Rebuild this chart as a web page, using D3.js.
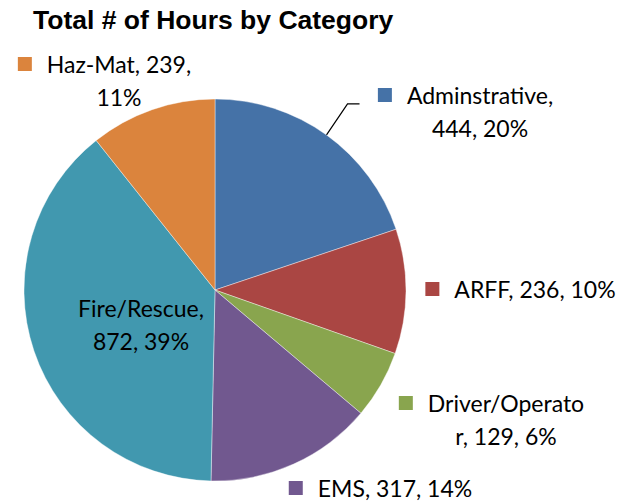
<!DOCTYPE html>
<html>
<head>
<meta charset="utf-8">
<script src="https://cdn.jsdelivr.net/npm/d3@7"></script>
<style>
  body { margin: 0; background: #fff; }
  svg { display: block; }
</style>
</head>
<body>
<div id="chart"></div>
<script>
// data
let categories = ["Adminstrative", "ARFF", "Driver/Operator", "EMS", "Fire/Rescue", "Haz-Mat"]
let hours = [444, 236, 129, 317, 872, 239]
let percentLabels = ["20%", "10%", "6%", "14%", "39%", "11%"]
let colors = ["#4572A7", "#AA4643", "#89A54E", "#71588F", "#4198AF", "#DB843D"]

// label text, split in lines the way the chart wraps them
let labelLines = [
    ["Adminstrative,", "444, 20%"],
    ["ARFF, 236, 10%"],
    ["Driver/Operato", "r, 129, 6%"],
    ["EMS, 317, 14%"],
    ["Fire/Rescue,", "872, 39%"],
    ["Haz-Mat, 239,", "11%"]
]

var width = 634
var height = 504
var cx = 215, cy = 290, radius = 191

// where each label block sits, relative to the pie centre (centre x of the text, first baseline)
var labelPos = [
    { dx: 265, dy: -186, key: true },
    { dx: 320, dy: 8, key: true },
    { dx: 291, dy: 122, key: true },
    { dx: 180, dy: 207, key: true },
    { dx: -74, dy: 27, key: false },
    { dx: -96, dy: -217, key: true }
]

var svg = d3.select("#chart").append("svg")
    .attr("width", width)
    .attr("height", height)

svg.append("text")
    .attr("x", 33)
    .attr("y", 29)
    .style("font-family", "'Liberation Sans', Arial, sans-serif")
    .style("font-weight", "bold")
    .style("font-size", "26.5px")
    .attr("fill", "#000")
    .text("Total # of Hours by Category")

var pie = d3.pie().sort(null).value(function (d) { return d })
var arcs = pie(hours)

var arc = d3.arc().innerRadius(0).outerRadius(radius)
var edgeArc = d3.arc().innerRadius(radius).outerRadius(radius)

var g = svg.append("g")
    .attr("transform", "translate(" + cx + "," + cy + ")")

g.selectAll("path.slice")
    .data(arcs)
    .enter().append("path")
    .attr("class", "slice")
    .attr("d", arc)
    .attr("fill", function (d, i) { return colors[i] })
    .attr("stroke", "#ffffff")
    .attr("stroke-width", 0.8)
    .attr("stroke-opacity", 0.5)

// leader line for the first label
var edge = edgeArc.centroid(arcs[0])
g.append("polyline")
    .attr("points", [edge, [edge[0] + 21, edge[1] - 31], [edge[0] + 33, edge[1] - 31]].map(function (p) { return p.join(",") }).join(" "))
    .attr("fill", "none")
    .attr("stroke", "#000")
    .attr("stroke-width", 1.2)

var lineHeight = 33
var labels = g.selectAll("g.label")
    .data(labelLines)
    .enter().append("g")
    .attr("class", "label")

labels.each(function (lines, i) {
    var lg = d3.select(this)
    var p = labelPos[i]
    var texts = lg.selectAll("text")
        .data(lines)
        .enter().append("text")
        .attr("x", p.dx)
        .attr("y", function (d, j) { return p.dy + j * lineHeight })
        .attr("text-anchor", "middle")
        .style("font-family", "Lato, 'Open Sans', sans-serif")
        .style("font-size", "23px")
        .attr("fill", "#000")
        .text(function (d) { return d })
    if (p.key) {
        var w = texts.node().getComputedTextLength()
        lg.append("rect")
            .attr("x", p.dx - w / 2 - 29)
            .attr("y", p.dy - 16)
            .attr("width", 14)
            .attr("height", 14)
            .attr("fill", colors[i])
    }
})
</script>
</body>
</html>
